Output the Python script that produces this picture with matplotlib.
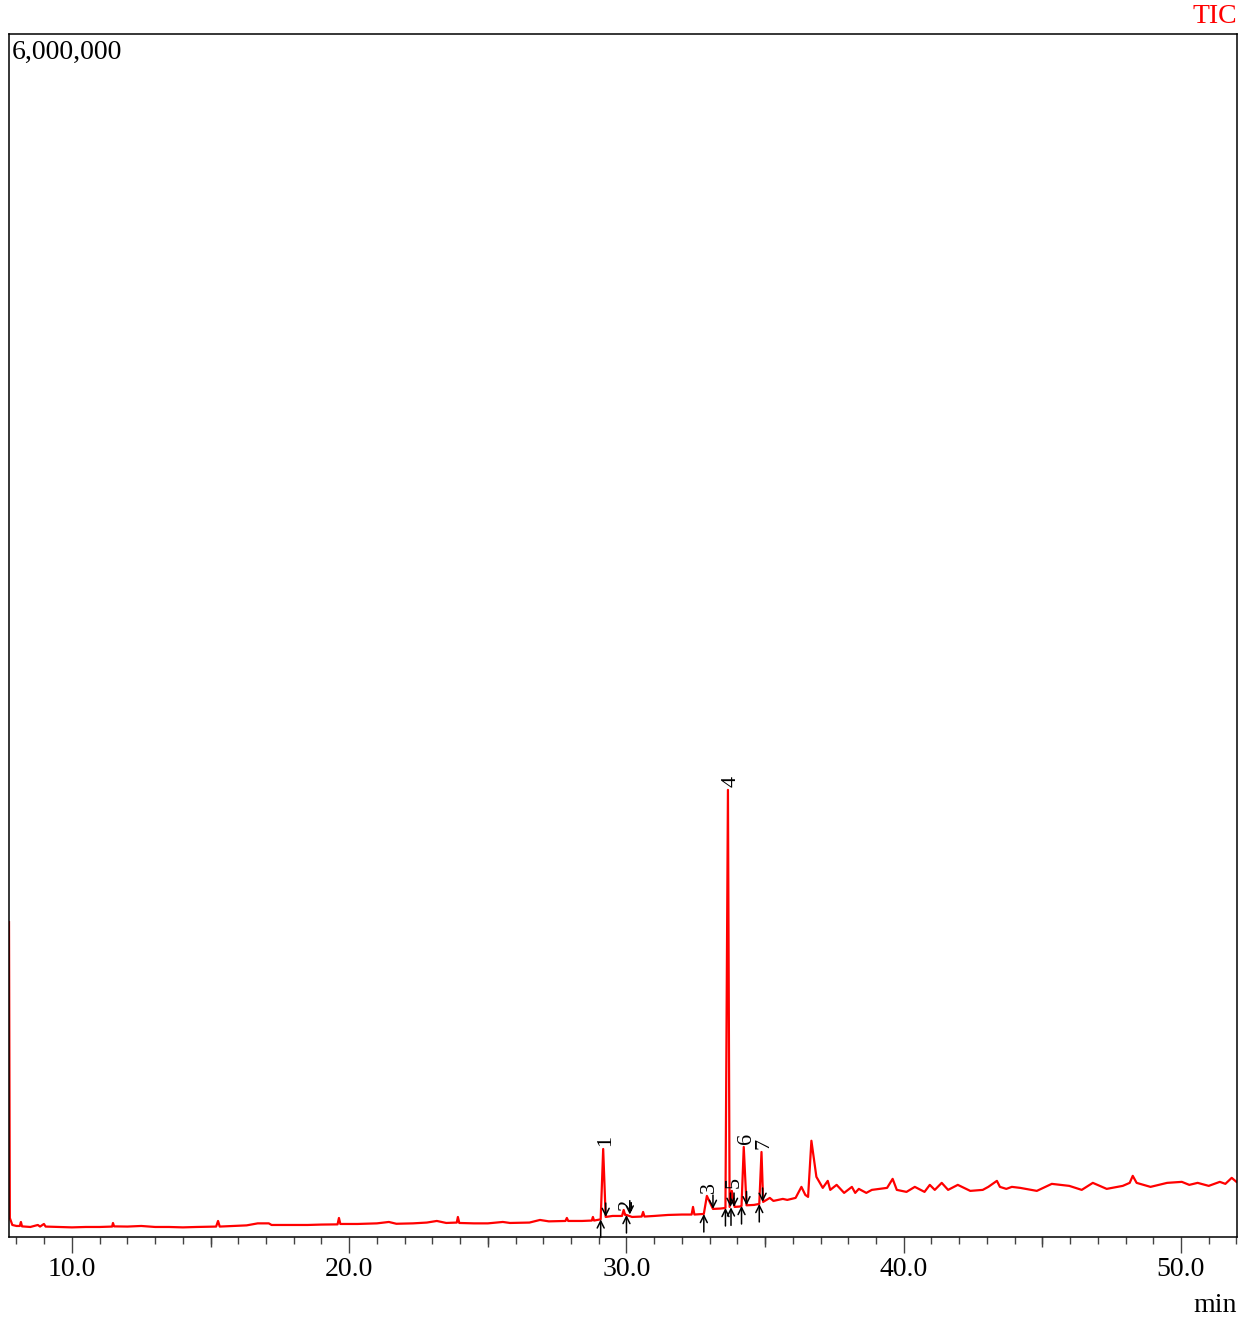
import matplotlib
matplotlib.use("Agg")
from matplotlib import pyplot as plt
from matplotlib.ticker import MultipleLocator, FormatStrFormatter

plt.rcParams['font.family'] = ['Liberation Serif', 'DejaVu Serif']

# TIC trace: retention time (min) and intensity (counts)
rt = [7.73, 7.76, 7.85, 8.0, 8.12, 8.16, 8.2, 8.5, 8.77, 8.85, 8.99, 9.05, 9.5, 10.0,
      10.5, 11.0, 11.45, 11.48, 11.52, 12.0, 12.5, 13.0, 13.5, 14.0, 14.5, 15.2, 15.27,
      15.33, 15.8, 16.3, 16.7, 17.1, 17.2, 18.0, 18.5, 19.0, 19.58, 19.63, 19.68, 20.3,
      21.0, 21.43, 21.7, 22.3, 22.8, 23.16, 23.5, 23.88, 23.92, 23.97, 24.5, 25.0, 25.54,
      25.8, 26.5, 26.88, 27.2, 27.8, 27.85, 27.9, 28.4, 28.75, 28.79, 28.83, 29.07,
      29.16, 29.25, 29.5, 29.84, 29.9, 29.95, 30.0, 30.2, 30.55, 30.6, 30.65, 31.0,
      31.5, 32.0, 32.35, 32.4, 32.45, 32.79, 32.9, 33.12, 33.4, 33.57, 33.66, 33.72,
      33.8, 33.9, 34.09, 34.15, 34.23, 34.33, 34.6, 34.79, 34.87, 34.93, 35.17, 35.3,
      35.64, 35.8, 36.1, 36.31, 36.45, 36.55, 36.67, 36.85, 37.08, 37.26, 37.35, 37.58,
      37.85, 38.13, 38.25, 38.38, 38.65, 38.85, 39.4, 39.6, 39.75, 40.1, 40.4, 40.75,
      40.94, 41.12, 41.37, 41.6, 41.95, 42.4, 42.85, 43.05, 43.36, 43.47, 43.7, 43.9,
      44.2, 44.8, 45.34, 45.97, 46.42, 46.82, 47.32, 47.9, 48.15, 48.26, 48.4, 48.9,
      49.5, 50.03, 50.3, 50.6, 51.0, 51.4, 51.6, 51.83, 52.0]
tic = [1570, 95, 60, 55, 55, 75, 53, 50, 60, 52, 65, 52, 50, 48,
       50, 50, 52, 70, 53, 52, 55, 50, 50, 48, 50, 52, 80,
       52, 55, 58, 68, 68, 60, 60, 60, 62, 63, 95, 65, 65,
       68, 75, 66, 68, 72, 80, 70, 72, 100, 70, 68, 68, 75,
       70, 72, 85, 78, 80, 95, 80, 80, 82, 100, 82, 88,
       439, 100, 105, 105, 135, 110, 110, 100, 102, 125, 102, 105,
       110, 112, 112, 150, 112, 115, 205, 140, 142, 145, 2230, 150,
       230, 150, 152, 155, 449, 158, 160, 165, 424, 175, 195, 180,
       190, 185, 195, 250, 210, 200, 480, 300, 245, 280, 235, 260,
       220, 250, 220, 240, 220, 235, 245, 290, 235, 225, 250, 225,
       260, 235, 270, 235, 260, 230, 235, 250, 280, 250, 240, 250,
       245, 230, 265, 255, 235, 270, 240, 255, 270, 305, 270, 250,
       270, 275, 260, 270, 255, 275, 265, 295, 275]
tic = [v * 1000 for v in tic]

# integrated peaks
peak_no = ['1', '2', '3', '4', '5', '6', '7']
peak_rt = [29.16, 29.95, 32.90, 33.66, 33.80, 34.23, 34.87]
peak_top = [439e3, 120e3, 205e3, 2230e3, 230e3, 449e3, 424e3]
start_rt = [29.07, 30.00, 32.79, 33.57, 33.77, 34.15, 34.79]
start_i = [88e3, 110e3, 115e3, 145e3, 148e3, 155e3, 165e3]
end_rt = [29.25, 30.12, 33.12, 33.75, 33.88, 34.33, 34.91]
end_i = [100e3, 112e3, 140e3, 150e3, 150e3, 158e3, 175e3]

fig = plt.figure(figsize=(12.47, 13.18), dpi=100)
ax = fig.add_axes([9/1247, 1 - 1237/1318, 1228/1247, 1203/1318])

ax.plot(rt, tic, color='#ff0000', lw=1.6)

arrow = dict(arrowstyle='->,head_length=0.5,head_width=0.25', color='black',
             lw=1.1, shrinkA=0, shrinkB=0)
for i in range(len(peak_no)):
    ax.annotate(peak_no[i], xy=(peak_rt[i], peak_top[i]), xytext=(2, 2),
                textcoords='offset points', rotation=90, ha='center', va='bottom',
                fontsize=16)
    ax.annotate('', xy=(start_rt[i], start_i[i]), xytext=(0, -13),
                textcoords='offset points', annotation_clip=False, arrowprops=arrow)
    ax.annotate('', xy=(end_rt[i], end_i[i]), xytext=(0, 10),
                textcoords='offset points', annotation_clip=False, arrowprops=arrow)

ax.set_xlim(7.73, 52.02)
ax.set_ylim(0, 6000000)
ax.set_yticks([])
ax.xaxis.set_major_locator(MultipleLocator(10))
ax.xaxis.set_minor_locator(MultipleLocator(1))
ax.xaxis.set_major_formatter(FormatStrFormatter('%.1f'))
ax.tick_params(axis='x', which='major', length=11.5, width=1, color='#444444',
               labelsize=20, pad=3)
ax.tick_params(axis='x', which='minor', length=5, width=1, color='#444444')
for s in ax.spines.values():
    s.set_linewidth(1.1)

# medium ticks every 5 min
sec = ax.secondary_xaxis('bottom')
sec.set_xticks([15, 25, 35, 45])
sec.set_xticklabels([])
sec.tick_params(length=7, width=1, color='#444444')
sec.spines['bottom'].set_visible(False)

ax.text(0.002, 0.995, '6,000,000', transform=ax.transAxes, ha='left', va='top',
        fontsize=20)
ax.text(1.0, 1.004, 'TIC', transform=ax.transAxes, ha='right', va='bottom',
        fontsize=20, color='#ff0000')
fig.text(1237/1247, 6/1318, 'min', ha='right', va='baseline', fontsize=20)

fig.savefig('out.png', dpi=100)
